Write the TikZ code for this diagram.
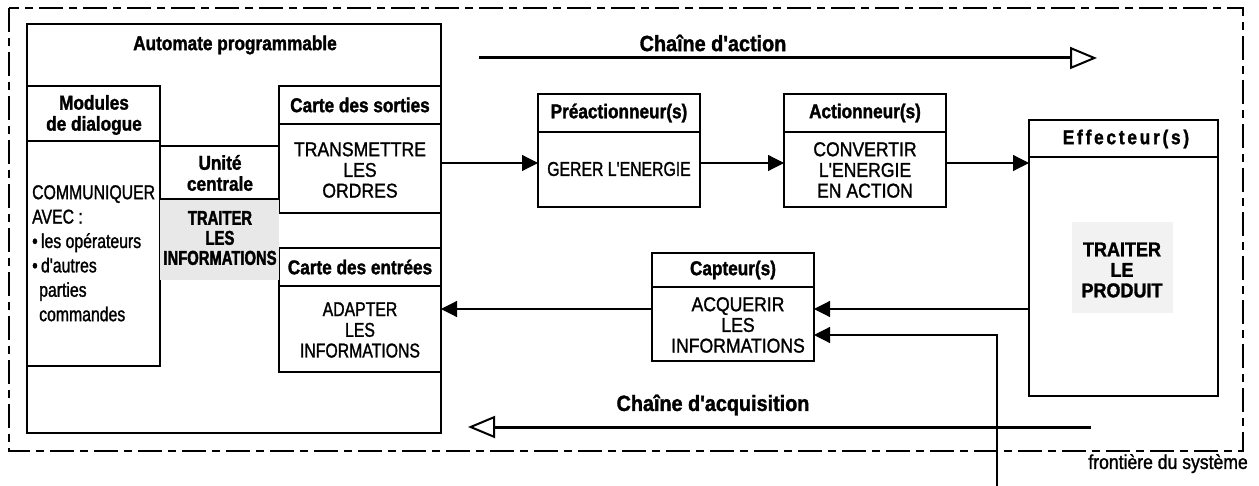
\documentclass[tikz,border=0pt]{standalone}
\usepackage{fontspec}
\setmainfont{Liberation Sans}
\newfontfamily\hvr[FakeStretch=0.88,FakeBold=1.3]{Liberation Sans}
\newfontfamily\hvn[FakeStretch=0.79,FakeBold=1.3]{Liberation Sans}
\newfontfamily\hvb[FakeStretch=0.86,FakeBold=1.5]{Liberation Sans}
\newfontfamily\hvbn[FakeStretch=0.74,FakeBold=2]{Liberation Sans}
\newfontfamily\hvbw[FakeStretch=0.9,FakeBold=1.5]{Liberation Sans}
\newfontfamily\hvbs[FakeStretch=0.86,LetterSpace=14,FakeBold=1.5]{Liberation Sans}
\usetikzlibrary{arrows.meta}
\definecolor{lightshade}{gray}{0.91}
\definecolor{paleshade}{gray}{0.95}
\tikzset{
  blk/.style={draw, line width=1.8pt, inner sep=0pt, outer sep=0pt, anchor=north west},
  sep/.style={line width=1.8pt},
  hdr/.style={font=\hvb\bfseries\fontsize{20}{21}\selectfont, align=center, inner sep=0pt},
  txt/.style={font=\hvr\fontsize{20}{20.7}\selectfont, align=center, inner sep=0pt},
  conn/.style={line width=1.2pt, -{Triangle[length=16pt,width=16pt]}},
  chain/.style={line width=3pt, -{Triangle[open,length=27pt,width=22pt,line width=2pt]}},
  frame/.style={line width=2pt, dash pattern=on 24pt off 6pt on 8pt off 6pt}
}
\begin{document}
\begin{tikzpicture}[x=1pt,y=-1pt]
\useasboundingbox[fill=white] (0,0) rectangle (1259,486);

% system frontier
\draw[frame] (9,8) rectangle (1243,451);
\node[font=\hvr\fontsize{20}{22}\selectfont, inner sep=0pt, anchor=north east] (fr) at (1248,454) {frontière du système};

% Automate programmable
\node[blk, minimum width=414pt, minimum height=409pt] (ap) at (27,24) {};
\node[hdr] (apt) at (235,45) {Automate programmable};

% Modules de dialogue
\node[blk, minimum width=133pt, minimum height=280pt] (md) at (27,86) {};
\draw[sep] (md.west |- 0,141) -- (md.east |- 0,141);
\node[hdr] (mdt) at (94,115) {Modules\\de dialogue};
\node[font=\hvn\fontsize{20}{24.4}\selectfont, align=left, inner sep=0pt, anchor=north west] (mdx) at (32,185)
  {COMMUNIQUER\\AVEC :\\•\,les opérateurs\\•\,d'autres\\\hspace*{7pt}parties\\\hspace*{7pt}commandes};

% Carte des sorties
\node[blk, minimum width=162pt, minimum height=127pt] (cs) at (279,86) {};
\draw[sep] (cs.west |- 0,124) -- (cs.east |- 0,124);
\node[hdr] (cst) at (360,105) {Carte des sorties};
\node[txt] (csx) at (360,170) {TRANSMETTRE\\LES\\ORDRES};

% Carte des entrées
\node[blk, minimum width=162pt, minimum height=124pt] (ce) at (279,248) {};
\draw[sep] (ce.west |- 0,286) -- (ce.east |- 0,286);
\node[hdr] (cet) at (360,267) {Carte des entrées};
\node[txt, font=\hvn\fontsize{20}{20.7}\selectfont] (cex) at (360,330) {ADAPTER\\LES\\INFORMATIONS};

% Unité centrale
\fill[lightshade] (md.east |- 0,199) rectangle (cs.west |- 0,280);
\draw[sep] (md.east |- 0,146) -- (cs.west |- 0,146);
\draw[sep] (md.east |- 0,199) -- (cs.west |- 0,199);
\node[hdr] (uct) at (220,173) {Unité\\centrale};
\node[font=\hvbn\bfseries\fontsize{20}{20}\selectfont, align=center, inner sep=0pt] (ucx) at (220,238) {TRAITER\\LES\\INFORMATIONS};

% Préactionneur(s)
\node[blk, minimum width=162pt, minimum height=113pt] (pre) at (538,94) {};
\draw[sep] (pre.west |- 0,132) -- (pre.east |- 0,132);
\node[hdr] (pret) at (619,113) {Préactionneur(s)};
\node[txt, font=\hvn\fontsize{20}{20.7}\selectfont] (prex) at (619,169) {GERER L'ENERGIE};

% Actionneur(s)
\node[blk, minimum width=162pt, minimum height=113pt] (act) at (784,94) {};
\draw[sep] (act.west |- 0,132) -- (act.east |- 0,132);
\node[hdr] (actt) at (865,113) {Actionneur(s)};
\node[txt] (actx) at (865,170) {CONVERTIR\\L'ENERGIE\\EN ACTION};

% Effecteur(s)
\node[blk, minimum width=189pt, minimum height=276pt] (eff) at (1029,120) {};
\draw[sep] (eff.west |- 0,157) -- (eff.east |- 0,157);
\node[font=\hvbs\bfseries\fontsize{20}{21}\selectfont, inner sep=0pt] (efft) at (1126,139) {Effecteur(s)};
\fill[paleshade] (1072,222) rectangle (1173,313);
\node[font=\hvbw\bfseries\fontsize{20}{20.5}\selectfont, align=center, inner sep=0pt] (effx) at (1122,270) {TRAITER\\LE\\PRODUIT};

% Capteur(s)
\node[blk, minimum width=162pt, minimum height=108pt] (cap) at (652,253) {};
\draw[sep] (cap.west |- 0,287) -- (cap.east |- 0,287);
\node[hdr] (capt) at (733,270) {Capteur(s)};
\node[txt] (capx) at (738,325) {ACQUERIR\\LES\\INFORMATIONS};

% connectors
\coordinate (ya) at (0,163);
\coordinate (yb) at (0,309);
\coordinate (yc) at (0,335);
\coordinate (ext) at (997,486);
\draw[conn] (cs.east |- ya) -- (pre.west |- ya);
\draw[conn] (pre.east |- ya) -- (act.west |- ya);
\draw[conn] (act.east |- ya) -- (eff.west |- ya);
\draw[conn] (eff.west |- yb) -- (cap.east |- yb);
\draw[conn] (cap.west |- yb) -- (ce.east |- yb);
\draw[conn] (ext) |- (cap.east |- yc);

% chains
\coordinate (a1) at (479,58);
\coordinate (a2) at (1097,58);
\coordinate (b1) at (1091,427);
\coordinate (b2) at (468,427);
\draw[chain] (a1) -- (a2);
\draw[chain] (b1) -- (b2);
\node[font=\hvbw\bfseries\fontsize{22}{24}\selectfont, inner sep=0pt] (cat) at (713,43) {Chaîne d'action};
\node[font=\hvbw\bfseries\fontsize{22}{24}\selectfont, inner sep=0pt] (cqt) at (713,405) {Chaîne d'acquisition};
\end{tikzpicture}
\end{document}
